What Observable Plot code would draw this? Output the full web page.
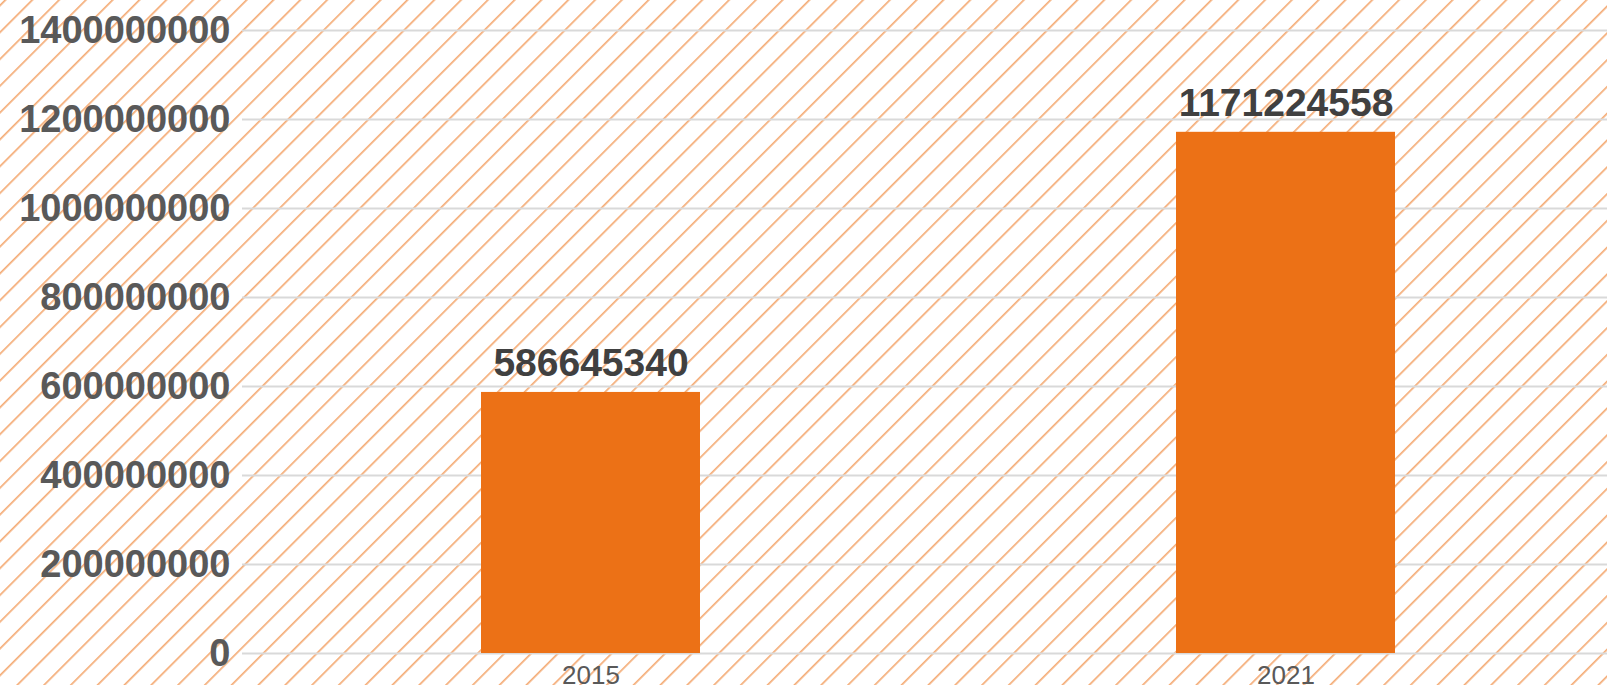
<!DOCTYPE html>
<html>
<head>
<meta charset="utf-8">
<script src="https://cdn.jsdelivr.net/npm/d3@7"></script>
<script src="https://cdn.jsdelivr.net/npm/@observablehq/plot@0.6"></script>
<style>
  html, body { margin: 0; padding: 0; background: #fff; }
  #chart svg { display: block; }
</style>
</head>
<body>
<div id="chart"></div>
<script>
const years = ["2015", "2021"];
const values = [586645340, 1171224558];
const yTicks = [0, 200000000, 400000000, 600000000, 800000000, 1000000000, 1200000000, 1400000000];

const data = years.map((year, i) => ({year, value: values[i]}));

// decorative diagonal hatch background
function hatch(index, scales, vals, dims) {
  const ns = "http://www.w3.org/2000/svg";
  const g = document.createElementNS(ns, "g");
  const defs = document.createElementNS(ns, "defs");
  const pat = document.createElementNS(ns, "pattern");
  pat.setAttribute("id", "hatch-bg");
  pat.setAttribute("patternUnits", "userSpaceOnUse");
  pat.setAttribute("width", "18.95");
  pat.setAttribute("height", "10");
  pat.setAttribute("patternTransform", "rotate(45)");
  const ln = document.createElementNS(ns, "line");
  ln.setAttribute("x1", "3.9"); ln.setAttribute("x2", "3.9");
  ln.setAttribute("y1", "-1"); ln.setAttribute("y2", "11");
  ln.setAttribute("stroke", "#ec7116");
  ln.setAttribute("stroke-width", "1");
  pat.appendChild(ln);
  defs.appendChild(pat);
  g.appendChild(defs);
  const r = document.createElementNS(ns, "rect");
  r.setAttribute("x", 0); r.setAttribute("y", 0);
  r.setAttribute("width", dims.width); r.setAttribute("height", dims.height);
  r.setAttribute("fill", "url(#hatch-bg)");
  g.appendChild(r);
  return g;
}

const chart = Plot.plot({
  width: 1607,
  height: 685,
  marginLeft: 242,
  marginRight: 0,
  marginTop: 30,
  marginBottom: 32,
  style: {fontFamily: "'Liberation Sans', Arial, sans-serif", background: "#fff", overflow: "visible"},
  x: {domain: years, paddingInner: 0.685, paddingOuter: 0.3245, align: 0.53, label: null},
  y: {domain: [0, 1400000000], label: null},
  marks: [
    hatch,
    Plot.gridY(yTicks, {stroke: "#d9d9d9", strokeOpacity: 1, strokeWidth: 2}),
    Plot.barY(data, {x: "year", y: "value", fill: "#ec7116"}),
    Plot.text(data, {
      x: "year", y: "value", text: d => String(d.value),
      lineAnchor: "bottom", dy: -16,
      fontSize: 39, fontWeight: "bold", fill: "#404040"
    }),
    Plot.axisY({
      ticks: yTicks, tickSize: 0, tickPadding: 12,
      tickFormat: d => String(d),
      fontSize: 38, fontWeight: "bold", fill: "#595959", label: null
    }),
    Plot.axisX({
      tickSize: 0, tickPadding: 12,
      fontSize: 26, fill: "#595959", label: null
    })
  ]
});
document.getElementById("chart").appendChild(chart);
</script>
</body>
</html>
